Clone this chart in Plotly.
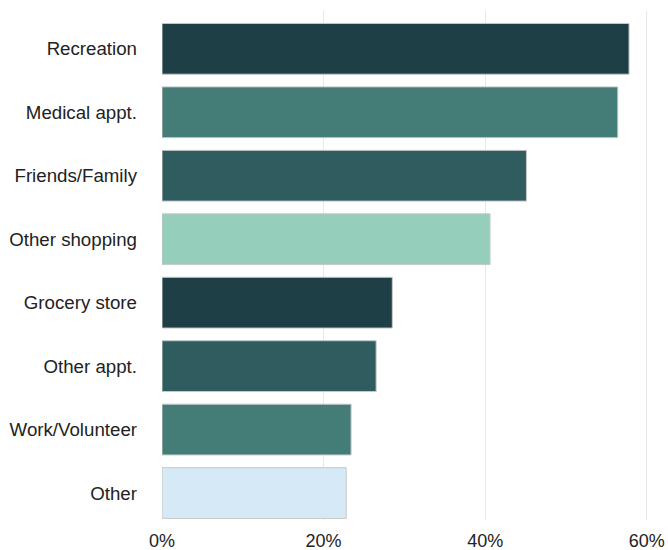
import plotly.graph_objects as go

categories = ["Recreation", "Medical appt.", "Friends/Family", "Other shopping",
              "Grocery store", "Other appt.", "Work/Volunteer", "Other"]
shares = [57.8, 56.4, 45.1, 40.6, 28.5, 26.5, 23.4, 22.8]
bar_colors = ["#1f3f46", "#447d78", "#2e5c5f", "#95cfbb",
              "#1f3f46", "#2e5c5f", "#447d78", "#d5e9f7"]
x_ticks = [0, 20, 40, 60]
x_tick_labels = ["0%", "20%", "40%", "60%"]

fig = go.Figure(
    go.Bar(
        x=shares,
        y=categories,
        orientation="h",
        width=0.8,
        marker=dict(color=bar_colors, line=dict(color="#c8c8c8", width=1)),
        hoverinfo="skip",
    )
)

fig.update_layout(
    width=668,
    height=550,
    margin=dict(l=162, r=5, t=11, b=30),
    paper_bgcolor="white",
    plot_bgcolor="white",
    font=dict(family="Liberation Sans, Arial, sans-serif", size=18.7, color="#222222"),
    showlegend=False,
    xaxis=dict(
        range=[0, 62],
        tickvals=x_ticks,
        ticktext=x_tick_labels,
        tickfont=dict(size=18),
        showgrid=True,
        gridcolor="#e8e8e8",
        gridwidth=1,
        zeroline=False,
        showline=False,
        ticks="",
        ticklabelstandoff=8,
        automargin=False,
    ),
    yaxis=dict(
        type="category",
        categoryorder="array",
        categoryarray=categories,
        range=[7.425, -0.596],
        showgrid=False,
        zeroline=False,
        showline=False,
        ticks="",
        ticklabelstandoff=24,
        automargin=False,
    ),
)

fig.write_html("out.html")
